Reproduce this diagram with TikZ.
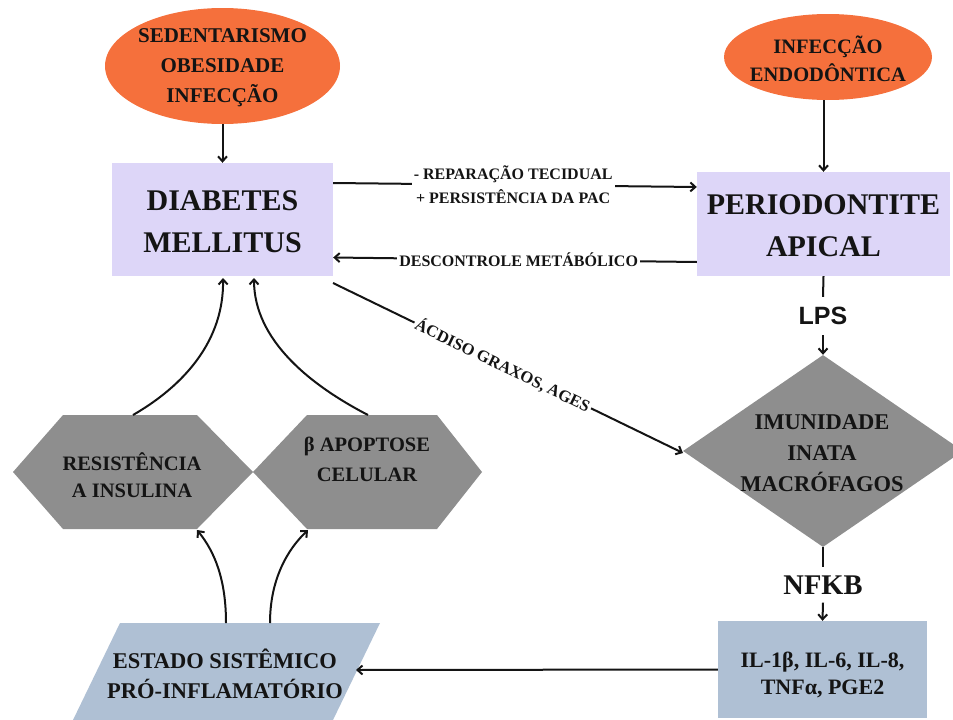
\documentclass[tikz,border=0pt]{standalone}
\usepackage{fontspec}
\setmainfont{Liberation Serif}
\newfontfamily\lsans{Liberation Sans}
\usetikzlibrary{shapes.geometric,arrows.meta}
\definecolor{orng}{RGB}{245,112,60}
\definecolor{lav}{RGB}{221,214,248}
\definecolor{gry}{RGB}{142,142,142}
\definecolor{blu}{RGB}{175,192,212}
\definecolor{ink}{RGB}{20,20,20}
\tikzset{
  ln/.style={line width=2pt, draw=ink},
  arr/.style={ln, -{Straight Barb[length=5pt,width=9pt]}},
  txt/.style={text=ink, align=center, inner sep=0pt},
  lbl/.style={text=ink, align=center, fill=white, inner sep=2pt,
    font=\bfseries\fontsize{16}{24}\selectfont},
}
\begin{document}
\begin{tikzpicture}[x=1pt,y=-1pt]
\useasboundingbox (0,0) rectangle (953,720);
\clip (0,0) rectangle (953,720);

% shapes
\node[ellipse, fill=orng, minimum width=235, minimum height=116, inner sep=0] (e1) at (222.5,66) {};
\node[txt, font=\bfseries\fontsize{21}{30}\selectfont] (e1t) at (222.5,68) {SEDENTARISMO\\OBESIDADE\\INFECÇÃO};

\node[ellipse, fill=orng, minimum width=208, minimum height=86, inner sep=0] (e2) at (828,57) {};
\node[txt, font=\bfseries\fontsize{20.5}{28}\selectfont] (e2t) at (828,59) {INFECÇÃO\\ENDODÔNTICA};

\node[rectangle, fill=lav, minimum width=221, minimum height=113, inner sep=0] (dm) at (222.5,219.5) {};
\node[txt, font=\bfseries\fontsize{30}{42}\selectfont] (dmt) at (222.5,222) {DIABETES\\MELLITUS};

\node[rectangle, fill=lav, minimum width=253, minimum height=104, inner sep=0] (pa) at (823.5,224) {};
\node[txt, font=\bfseries\fontsize{30}{42}\selectfont] (pat) at (823.5,226) {PERIODONTITE\\APICAL};

\node[diamond, fill=gry, minimum width=280, minimum height=192, inner sep=0] (dia) at (823,451) {};
\node[txt, font=\bfseries\fontsize{22.5}{31}\selectfont] (diat) at (822,453) {IMUNIDADE\\INATA\\MACRÓFAGOS};

\node[txt, inner sep=10pt, font=\lsans\bfseries\fontsize{25}{30}\selectfont] (lps) at (823,316) {LPS};
\node[txt, inner sep=8pt, font=\bfseries\fontsize{28.5}{32}\selectfont] (nfkb) at (823,585) {NFKB};

\node[rectangle, fill=blu, minimum width=209, minimum height=97, inner sep=0] (il) at (822.5,669.5) {};
\node[txt, font=\bfseries\fontsize{22}{27}\selectfont] (ilt) at (822.5,675) {IL-1β, IL-6, IL-8,\\TNFα, PGE2};

% hexagons
\path[fill=gry] (13,472) -- (63,415) -- (197,415) -- (253,472) -- (197,529) -- (63,529) -- cycle;
\path[fill=gry] (253,472) -- (307,415) -- (437,415) -- (482,472) -- (437,529) -- (307,529) -- cycle;
\node[txt, font=\bfseries\fontsize{20.5}{27}\selectfont] (h1t) at (132,475) {RESISTÊNCIA\\A INSULINA};
\node[txt, font=\bfseries\fontsize{20.5}{30}\selectfont] (h2t) at (367,459) {β APOPTOSE\\CELULAR};

% parallelogram
\path[fill=blu] (120,623) -- (380,623) -- (333,720) -- (73,720) -- cycle;
\node[txt, font=\bfseries\fontsize{22.5}{30}\selectfont] (part) at (225,674) {ESTADO SISTÊMICO\\PRÓ-INFLAMATÓRIO};

% connector end points
\coordinate (h1top) at (133,415);
\coordinate (h2top) at (368,415);
\coordinate (h1bot) at (197,530);
\coordinate (h2bot) at (308,530);
\coordinate (dmb1) at (223,278);
\coordinate (dmb2) at (254,278);
\coordinate (part1) at (226,623);
\coordinate (part2) at (270,623);
\coordinate (parR) at (356,670);
\coordinate (dmc) at (333,283);
\coordinate (diaL) at (683,453);

% connectors
\draw[arr] (e1) -- (dm);
\draw[arr] (pa.north |- e2.south) -- (pa.north);
\draw[arr] ([yshift=36.5pt]dm.east) -- node[lbl, pos=0.495] (lab1) {- REPARAÇÃO TECIDUAL\\+ PERSISTÊNCIA DA PAC} ([yshift=37pt]pa.west);
\draw[arr] ([yshift=-38pt]pa.west) -- node[lbl, pos=0.49] (lab2) {DESCONTROLE METÁBÓLICO} ([yshift=-38pt]dm.east);
\draw[arr] (dmc) -- node[lbl, sloped, pos=0.485, font=\bfseries\fontsize{16.5}{20}\selectfont] (lab3) {ÁCDISO GRAXOS, AGES} (diaL);
\draw[ln] (pa.south) -- (lps.north);
\draw[arr] (lps.south) -- (dia.north);
\draw[ln] (dia.south) -- (nfkb.north);
\draw[arr] (nfkb.south) -- (il.north);
\draw[arr] (il.west) -- (parR);
\draw[arr] (h1top) .. controls (185,385) and (224,340) .. (dmb1);
\draw[arr] (h2top) .. controls (310,385) and (254,340) .. (dmb2);
\draw[arr] (part1) .. controls (226,580) and (215,552) .. (h1bot);
\draw[arr] (part2) .. controls (270,580) and (287,550) .. (h2bot);
\end{tikzpicture}
\end{document}
